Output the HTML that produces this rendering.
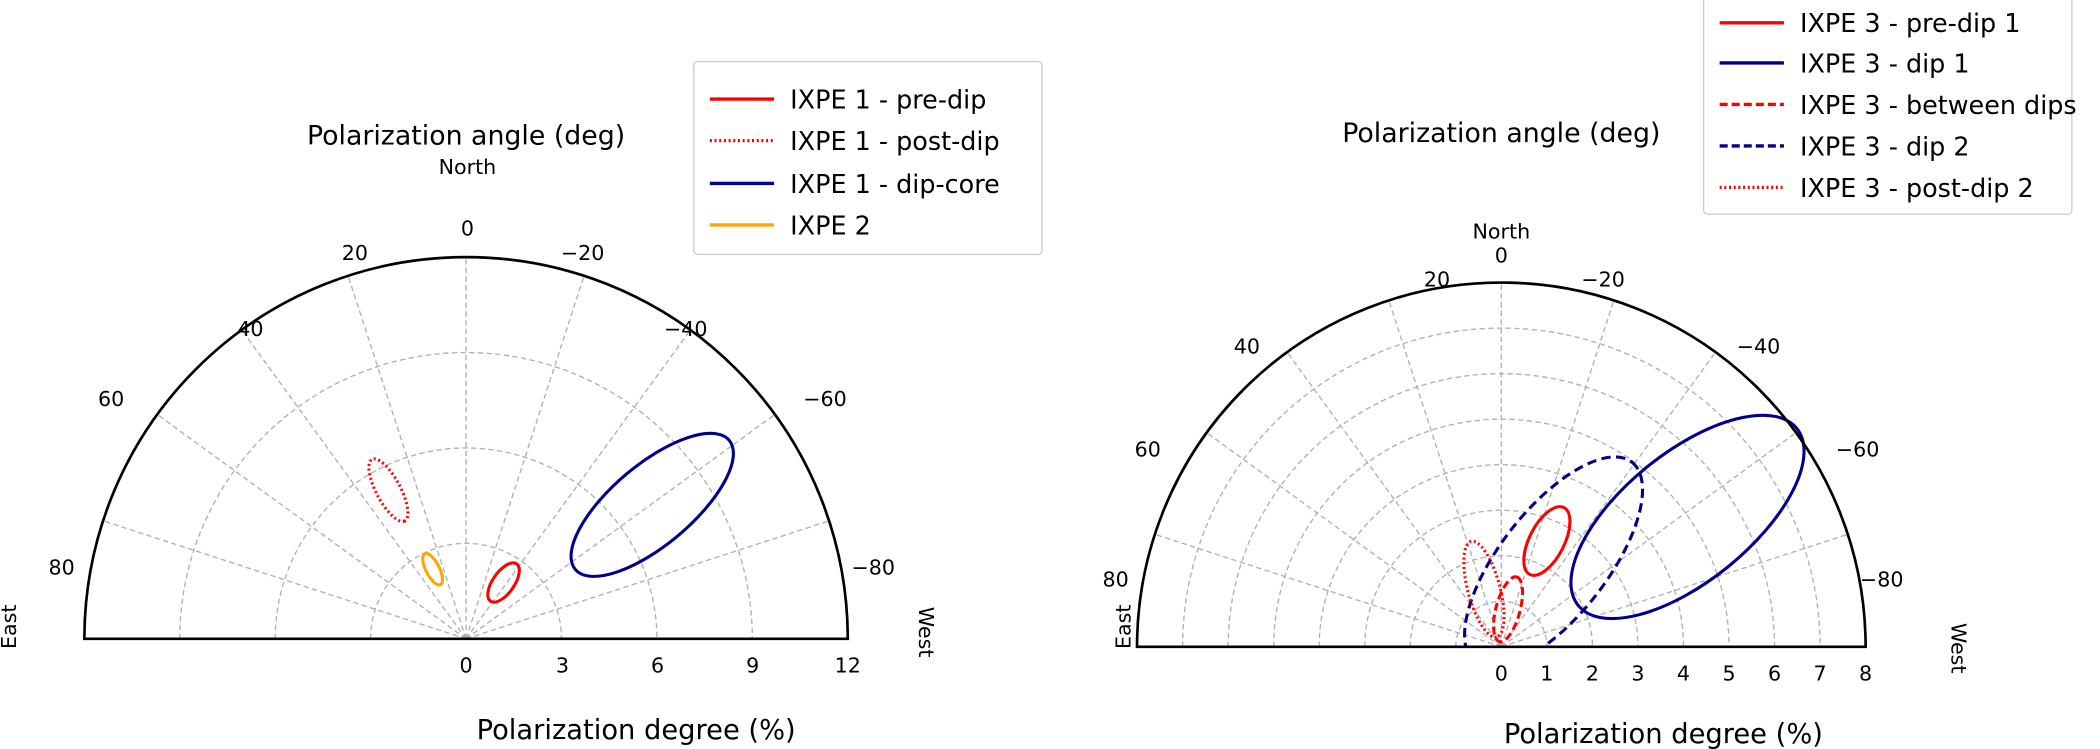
<!DOCTYPE html>
<html><head><meta charset="utf-8"><style>
html,body{margin:0;padding:0;background:#fff;}
svg{display:block;font-family:"DejaVu Sans","Liberation Sans",sans-serif;}
</style></head><body>
<svg width="2100" height="749" viewBox="0 0 1568 559.3" preserveAspectRatio="none" xmlns="http://www.w3.org/2000/svg">
<defs>
<clipPath id="cl"><rect x="0" y="0" width="800" height="477"/></clipPath>
<clipPath id="cr"><rect x="800" y="0" width="800" height="483"/></clipPath>
</defs>
<!-- LEFT -->
<g stroke="#b0b0b0" stroke-width="1" stroke-dasharray="4,2.5" fill="none">
<path d="M276.75,477 A71.25,71.25 0 0 1 419.25,477"/>
<path d="M205.5,477 A142.5,142.5 0 0 1 490.5,477"/>
<path d="M134.25,477 A213.75,213.75 0 0 1 561.75,477"/>
<line x1="348" y1="477" x2="348" y2="192"/>
<line x1="348" y1="477" x2="259.9" y2="205.9"/>
<line x1="348" y1="477" x2="180.5" y2="246.4"/>
<line x1="348" y1="477" x2="117.4" y2="309.5"/>
<line x1="348" y1="477" x2="76.9" y2="388.9"/>
<line x1="348" y1="477" x2="436.1" y2="205.9"/>
<line x1="348" y1="477" x2="515.5" y2="246.4"/>
<line x1="348" y1="477" x2="578.6" y2="309.5"/>
<line x1="348" y1="477" x2="619.1" y2="388.9"/>
</g>
<path d="M63,477 A285,285 0 0 1 633,477 Z" fill="none" stroke="#000" stroke-width="2"/>
<g clip-path="url(#cl)" fill="none" stroke-width="2.3">
<ellipse cx="487" cy="377" rx="75" ry="30" transform="rotate(-40 487 377)" stroke="#00008b"/>
<ellipse cx="376" cy="435" rx="17" ry="8" transform="rotate(-55 376 435)" stroke="#ff0000"/>
<ellipse cx="290" cy="366" rx="26" ry="9" transform="rotate(62 290 366)" stroke="#ff0000" stroke-dasharray="1.5,2"/>
<ellipse cx="323" cy="425" rx="13" ry="5" transform="rotate(63 323 425)" stroke="#ffa500"/>
</g>
<g font-size="15.4" text-anchor="middle" fill="#000">
<text x="349" y="130">North</text>
<text x="349" y="176">0</text>
<text x="265" y="194">20</text>
<text x="435" y="194">−20</text>
<text x="187" y="251">40</text>
<text x="512" y="251">−40</text>
<text x="83" y="303">60</text>
<text x="616" y="303">−60</text>
<text x="46" y="429">80</text>
<text x="652" y="429">−80</text>
<text x="348" y="502">0</text>
<text x="420" y="502">3</text>
<text x="491" y="502">6</text>
<text x="562" y="502">9</text>
<text x="633" y="502">12</text>
<text transform="translate(12,468) rotate(-90)">East</text>
<text transform="translate(686,472) rotate(90)">West</text>
</g>
<text x="348" y="108" font-size="20" text-anchor="middle">Polarization angle (deg)</text>
<text x="475" y="552" font-size="20.4" text-anchor="middle">Polarization degree (%)</text>
<rect x="518" y="46" width="260" height="144" rx="3" fill="#fff" stroke="#ccc" stroke-width="1"/>
<g stroke-width="2.5">
<line x1="530" y1="74" x2="578" y2="74" stroke="#ff0000"/>
<line x1="530" y1="105" x2="578" y2="105" stroke="#ff0000" stroke-dasharray="1.5,2"/>
<line x1="530" y1="137" x2="578" y2="137" stroke="#00008b"/>
<line x1="530" y1="168" x2="578" y2="168" stroke="#ffa500"/>
</g>
<g font-size="19">
<text x="590" y="81">IXPE 1 - pre-dip</text>
<text x="590" y="112">IXPE 1 - post-dip</text>
<text x="590" y="144">IXPE 1 - dip-core</text>
<text x="590" y="175">IXPE 2</text>
</g>

<!-- RIGHT -->
<g stroke="#b0b0b0" stroke-width="1" stroke-dasharray="4,2.5" fill="none">
<path d="M1087,483 A34,34 0 0 1 1155,483"/>
<path d="M1053,483 A68,68 0 0 1 1189,483"/>
<path d="M1019,483 A102,102 0 0 1 1223,483"/>
<path d="M985,483 A136,136 0 0 1 1257,483"/>
<path d="M951,483 A170,170 0 0 1 1291,483"/>
<path d="M917,483 A204,204 0 0 1 1325,483"/>
<path d="M883,483 A238,238 0 0 1 1359,483"/>
<line x1="1121" y1="483" x2="1121" y2="211"/>
<line x1="1121" y1="483" x2="1037" y2="224.3"/>
<line x1="1121" y1="483" x2="961.1" y2="263"/>
<line x1="1121" y1="483" x2="901" y2="323.1"/>
<line x1="1121" y1="483" x2="862.3" y2="399"/>
<line x1="1121" y1="483" x2="1205" y2="224.3"/>
<line x1="1121" y1="483" x2="1280.9" y2="263"/>
<line x1="1121" y1="483" x2="1341" y2="323.1"/>
<line x1="1121" y1="483" x2="1379.7" y2="399"/>
</g>
<g clip-path="url(#cr)" fill="none" stroke-width="2.3">
<ellipse cx="1260" cy="386" rx="105" ry="48" transform="rotate(-39 1260 386)" stroke="#00008b"/>
<ellipse cx="1160" cy="420" rx="95" ry="40" transform="rotate(-52 1160 420)" stroke="#00008b" stroke-dasharray="7,4"/>
<ellipse cx="1155" cy="404" rx="28" ry="13" transform="rotate(-63 1155 404)" stroke="#ff0000"/>
<ellipse cx="1126" cy="455" rx="25" ry="9" transform="rotate(-75 1126 455)" stroke="#ff0000" stroke-dasharray="6,3"/>
<ellipse cx="1108" cy="440" rx="37" ry="12" transform="rotate(75 1108 440)" stroke="#ff0000" stroke-dasharray="1.5,2"/>
</g>
<path d="M849,483 A272,272 0 0 1 1393,483 Z" fill="none" stroke="#000" stroke-width="2"/>
<g font-size="15.4" text-anchor="middle" fill="#000">
<text x="1121" y="178">North</text>
<text x="1121" y="196">0</text>
<text x="1073" y="214">20</text>
<text x="1197" y="214">−20</text>
<text x="931" y="264">40</text>
<text x="1313" y="264">−40</text>
<text x="857" y="341">60</text>
<text x="1387" y="341">−60</text>
<text x="833" y="438">80</text>
<text x="1405" y="438">−80</text>
<text x="1121" y="508">0</text>
<text x="1155" y="508">1</text>
<text x="1189" y="508">2</text>
<text x="1223" y="508">3</text>
<text x="1257" y="508">4</text>
<text x="1291" y="508">5</text>
<text x="1325" y="508">6</text>
<text x="1359" y="508">7</text>
<text x="1393" y="508">8</text>
<text transform="translate(844,468) rotate(-90)">East</text>
<text transform="translate(1457,484) rotate(90)">West</text>
</g>
<text x="1121" y="106" font-size="20" text-anchor="middle">Polarization angle (deg)</text>
<text x="1242" y="555" font-size="20.4" text-anchor="middle">Polarization degree (%)</text>
<rect x="1272" y="-4" width="275" height="164" rx="3" fill="#fff" stroke="#ccc" stroke-width="1"/>
<g stroke-width="2.5">
<line x1="1284" y1="17" x2="1332" y2="17" stroke="#ff0000"/>
<line x1="1284" y1="47" x2="1332" y2="47" stroke="#00008b"/>
<line x1="1284" y1="78" x2="1332" y2="78" stroke="#ff0000" stroke-dasharray="6,3"/>
<line x1="1284" y1="109" x2="1332" y2="109" stroke="#00008b" stroke-dasharray="6,3"/>
<line x1="1284" y1="140" x2="1332" y2="140" stroke="#ff0000" stroke-dasharray="1.5,2"/>
</g>
<g font-size="19">
<text x="1344" y="24">IXPE 3 - pre-dip 1</text>
<text x="1344" y="54">IXPE 3 - dip 1</text>
<text x="1344" y="85">IXPE 3 - between dips</text>
<text x="1344" y="116">IXPE 3 - dip 2</text>
<text x="1344" y="147">IXPE 3 - post-dip 2</text>
</g>
</svg>
</body></html>
